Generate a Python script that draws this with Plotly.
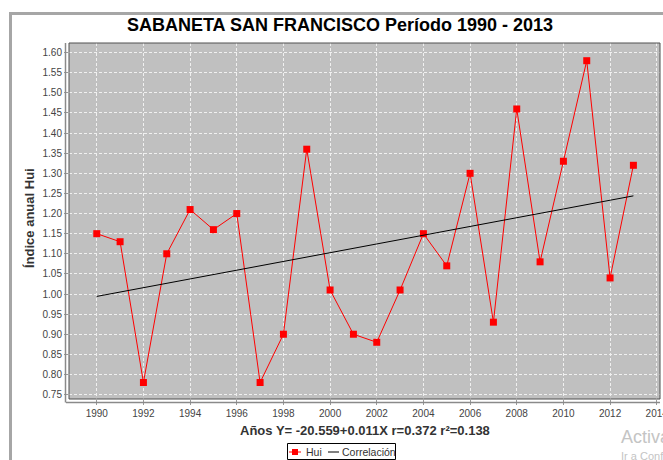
import plotly.graph_objects as go

years = list(range(1990, 2014))
hui = [1.15, 1.13, 0.78, 1.10, 1.21, 1.16, 1.20, 0.78, 0.90, 1.36, 1.01, 0.90,
       0.88, 1.01, 1.15, 1.07, 1.30, 0.93, 1.46, 1.08, 1.33, 1.58, 1.04, 1.32]
reg_x = [1990, 2013]
reg_y = [0.994, 1.244]

title = "SABANETA SAN FRANCISCO Período 1990 - 2013"
ytitle = "Índice anual Hui"
xtitle = "Años Y= -20.559+0.011X r=0.372 r²=0.138"
legend_names = ["Hui", "Correlación"]

L, R, T, B = 69, 3, 43, 61
W, H = 663, 460
pw, ph = W - L - R, H - T - B

def px(x):
    return (x - L) / pw

def py(y):
    return (H - B - y) / ph

FF = "Arial, Liberation Sans, sans-serif"

fig = go.Figure()
fig.add_trace(go.Scatter(x=years, y=hui, mode="lines+markers", name=legend_names[0],
                         line=dict(color="#ff0000", width=1),
                         marker=dict(symbol="square", size=7, color="#ff0000")))
fig.add_trace(go.Scatter(x=reg_x, y=reg_y, mode="lines", name=legend_names[1],
                         line=dict(color="#000000", width=1)))

fig.update_layout(
    width=W, height=H,
    margin=dict(l=L, r=R, t=T, b=B, autoexpand=False),
    paper_bgcolor="white", plot_bgcolor="#c0c0c0",
    font=dict(family=FF, size=10, color="#444444"),
    title=dict(text="<b>" + title + "</b>", x=px(340), xref="paper", xanchor="center",
               y=1 - 25 / H, yanchor="middle",
               font=dict(size=18, color="#000000", family=FF)),
    showlegend=False,
    xaxis=dict(range=[1988.81, 2014.14], tickmode="linear", tick0=1990, dtick=2,
               showgrid=True, gridcolor="#f0f0f0", griddash="3px,2px", gridwidth=1,
               zeroline=False, ticks="outside", ticklen=5, tickcolor="#999999",
               showline=False, ticklabeloverflow="allow",
               tickfont=dict(size=10, color="#444444")),
    yaxis=dict(range=[0.739, 1.624], tickmode="linear", tick0=0.75, dtick=0.05,
               tickformat=".2f",
               showgrid=True, gridcolor="#f0f0f0", griddash="3px,2px", gridwidth=1,
               zeroline=False, ticks="outside", ticklen=4, tickcolor="#999999",
               showline=False,
               tickfont=dict(size=10, color="#444444")),
)

# plot outline
fig.add_shape(type="rect", xref="paper", yref="paper", x0=0, x1=1, y0=0, y1=1,
              line=dict(color="#505050", width=1), layer="above")
# offset axis lines
fig.add_shape(type="line", xref="paper", yref="paper", x0=px(66), x1=1,
              y0=py(402.5), y1=py(402.5), line=dict(color="#8a8a8a", width=1.5))
fig.add_shape(type="line", xref="paper", yref="paper", x0=px(65.5), x1=px(65.5),
              y0=1, y1=py(402.5), line=dict(color="#8a8a8a", width=1.5))

fig.add_annotation(text="<b>" + ytitle + "</b>", xref="paper", yref="paper",
                   x=px(29), y=py(218), textangle=-90, showarrow=False,
                   xanchor="center", yanchor="middle",
                   font=dict(size=13, color="#333333", family=FF))
fig.add_annotation(text="<b>" + xtitle + "</b>", xref="paper", yref="paper",
                   x=px(365), y=py(430), showarrow=False,
                   xanchor="center", yanchor="middle",
                   font=dict(size=13, color="#333333", family=FF))

# legend box (drawn)
fig.add_shape(type="rect", xref="paper", yref="paper", x0=px(287.5), x1=px(395.5),
              y0=py(459.5), y1=py(443.5), line=dict(color="#000000", width=1),
              fillcolor="white")
fig.add_shape(type="line", xref="paper", yref="paper", x0=px(289), x1=px(301),
              y0=py(452), y1=py(452), line=dict(color="#ff0000", width=1))
fig.add_shape(type="rect", xref="paper", yref="paper", x0=px(292), x1=px(298),
              y0=py(455), y1=py(449), line=dict(width=0), fillcolor="#ff0000")
fig.add_annotation(text=legend_names[0], xref="paper", yref="paper", x=px(304),
                   y=py(452), showarrow=False, xanchor="left", yanchor="middle",
                   font=dict(size=10.5, color="#333333", family=FF))
fig.add_shape(type="line", xref="paper", yref="paper", x0=px(328), x1=px(339),
              y0=py(452), y1=py(452), line=dict(color="#000000", width=1))
fig.add_annotation(text=legend_names[1], xref="paper", yref="paper", x=px(340),
                   y=py(452), showarrow=False, xanchor="left", yanchor="middle",
                   font=dict(size=10.5, color="#333333", family=FF))

# screenshot watermark
fig.add_annotation(text="Activar Windows", xref="paper", yref="paper",
                   x=px(619), y=py(437), showarrow=False, xanchor="left", yanchor="middle",
                   font=dict(size=18, color="#c4c4c4", family=FF))
fig.add_annotation(text="Ir a Configuración", xref="paper", yref="paper",
                   x=px(619), y=py(456), showarrow=False, xanchor="left", yanchor="middle",
                   font=dict(size=11, color="#c4c4c4", family=FF))

# screenshot frame lines
fig.add_shape(type="line", xref="paper", yref="paper", x0=px(10.5), x1=px(10.5),
              y0=py(12), y1=py(465), line=dict(color="#a6a6a6", width=3))
fig.add_shape(type="line", xref="paper", yref="paper", x0=px(9), x1=px(670),
              y0=py(13.5), y1=py(13.5), line=dict(color="#a6a6a6", width=3))

fig.write_html("out.html", config={"displayModeBar": False},
               post_script="document.body.style.margin='0';document.body.style.overflow='hidden';")
